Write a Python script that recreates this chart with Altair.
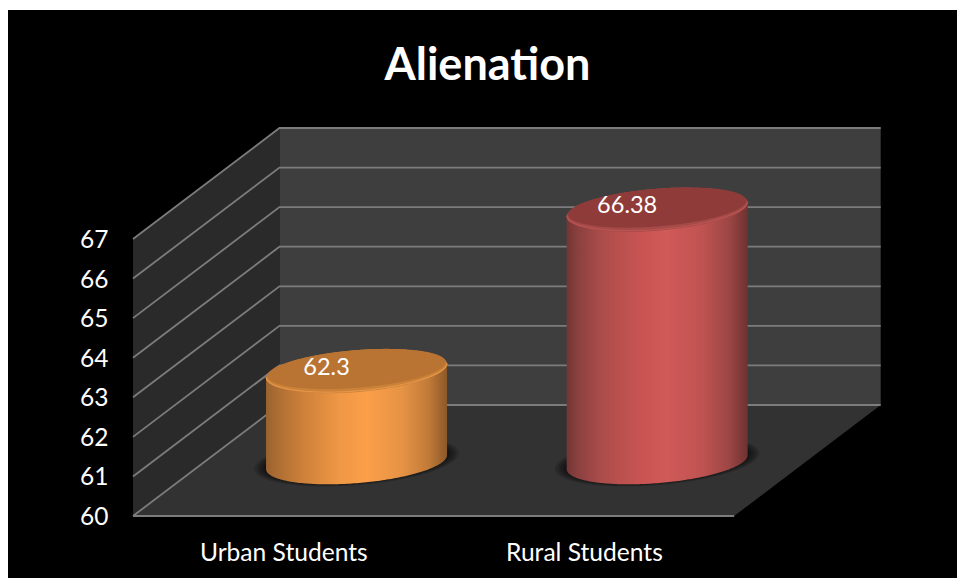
import altair as alt
import numpy as np
import pandas as pd

# Chart values
categories = ["Urban Students", "Rural Students"]
scores = [62.3, 66.38]
tick_values = [60, 61, 62, 63, 64, 65, 66, 67]
title_text = "Alienation"

# Colours for each cylinder: side gradient, rim and top face
side_stops = [
    [(0, "#9a6230"), (0.06, "#ab6d33"), (0.2, "#cd8039"), (0.4, "#ee9744"), (0.55, "#fc9f4a"),
     (0.75, "#e69345"), (0.9, "#c07a38"), (1, "#8c5828")],
    [(0, "#733534"), (0.06, "#8a403f"), (0.2, "#ad4d4b"), (0.4, "#c75452"), (0.55, "#d05a58"),
     (0.75, "#bf5351"), (0.9, "#9b4645"), (1, "#6e3230")],
]
rim_colors = ["#cc8139", "#a44a48"]
top_colors = ["#b97434", "#8f3b3a"]
edge_colors = ["#ec9f50", "#c45855"]

FONT = "Lato"

# Oblique projection of the box, in axis units
X_UNIT = 300.6
Y_UNIT = 39.57
DEPTH_X = 146.5 / X_UNIT
DEPTH_Y = 111 / Y_UNIT
BASE = tick_values[0]
TOP = tick_values[-1]
N_CATS = len(categories)
X_DOMAIN = [-125 / X_UNIT, 824 / X_UNIT]
Y_DOMAIN = [BASE - 62 / Y_UNIT, BASE + 506 / Y_UNIT]

# Cylinder cross-section, in axis units
RADIUS_X = 90.5 / X_UNIT
RADIUS_Y = 21 / Y_UNIT
TILT = 7 / Y_UNIT
DEPTH_FRAC = 0.485

x_axis = alt.Axis(
    values=[i + 0.5 for i in range(N_CATS)],
    labelExpr="datum.value < 1 ? '%s' : '%s'" % tuple(categories),
    domain=False, ticks=False, grid=False, labelColor="white", labelFont=FONT,
    labelFontSize=24.6, labelPadding=0, offset=-37, labelOverlap=False, labelBound=False, labelFlush=False,
)
y_axis = alt.Axis(
    values=tick_values,
    domain=False, ticks=False, grid=False, labelColor="white", labelFont=FONT,
    labelFontSize=24.5, labelPadding=0, offset=-100, labelOffset=1.5, labelOverlap=False, labelBound=False,
)


def xenc():
    return alt.X("x:Q", scale=alt.Scale(domain=X_DOMAIN, nice=False, zero=False), axis=x_axis, title=None)


def yenc():
    return alt.Y("y:Q", scale=alt.Scale(domain=Y_DOMAIN, nice=False, zero=False), axis=y_axis, title=None)


def gradient(stops):
    return alt.Gradient(
        gradient="linear",
        x1=0, x2=1, y1=0, y2=0,
        stops=[alt.GradientStop(offset=o, color=c) for o, c in stops],
    )


def ellipse(cx, cy, scale_x=1.0, scale_y=1.0):
    t = np.linspace(0, np.pi, 121)
    rx = RADIUS_X * scale_x
    ry = RADIUS_Y * scale_y
    return pd.DataFrame({
        "x": cx + rx * np.cos(t),
        "y": cy + TILT * scale_x * np.cos(t) + ry * np.sin(t),
        "y2": cy + TILT * scale_x * np.cos(t) - ry * np.sin(t),
    })


def filled(df, **mark):
    return alt.Chart(df).mark_area(**mark).encode(x=xenc(), y=yenc(), y2="y2:Q")


# Side wall, back wall and floor
side_wall = filled(pd.DataFrame({
    "x": [0, DEPTH_X], "y": [BASE, BASE + DEPTH_Y], "y2": [TOP, TOP + DEPTH_Y],
}), color="#2a2a2a")

back_wall = filled(pd.DataFrame({
    "x": [DEPTH_X, N_CATS + DEPTH_X],
    "y": [BASE + DEPTH_Y, BASE + DEPTH_Y],
    "y2": [TOP + DEPTH_Y, TOP + DEPTH_Y],
}), color="#3e3e3e")

floor = alt.Chart(pd.DataFrame({
    "x": [0, DEPTH_X], "x2": [N_CATS, N_CATS + DEPTH_X], "y": [BASE, BASE + DEPTH_Y],
})).mark_area(color="#323232", orient="horizontal").encode(x=xenc(), x2="x2:Q", y=yenc())

# Gridlines run across the side wall and along the back wall
grid_rows = []
for v in tick_values:
    grid_rows += [
        {"v": v, "o": 0, "x": 0, "y": v},
        {"v": v, "o": 1, "x": DEPTH_X, "y": v + DEPTH_Y},
        {"v": v, "o": 2, "x": N_CATS + DEPTH_X, "y": v + DEPTH_Y},
    ]
gridlines = alt.Chart(pd.DataFrame(grid_rows)).mark_line(color="#7c7c7c", strokeWidth=1.8).encode(
    x=xenc(), y=yenc(), detail="v:N", order="o:Q"
)
front_edge = alt.Chart(pd.DataFrame({"x": [0, N_CATS], "y": [BASE, BASE]})).mark_line(
    color="#7c7c7c", strokeWidth=2
).encode(x=xenc(), y=yenc())

layers = [side_wall, back_wall, floor, gridlines, front_edge]

# Cylinders: soft floor shadow, side, bevelled top
for i, value in enumerate(scores):
    cx = i + 0.5 + DEPTH_X / 2
    base_y = BASE + DEPTH_FRAC * DEPTH_Y
    top_y = base_y + (value - BASE)

    for grow in [1.13, 1.10, 1.07, 1.04, 1.02]:
        layers.append(filled(ellipse(cx, base_y + 0.03, grow, 1 + (grow - 1) * 1.2),
                             color="#000000", opacity=0.15))

    bottom = ellipse(cx, base_y)
    lid = ellipse(cx, top_y)
    body = pd.DataFrame({"x": bottom["x"], "y": top_y + (bottom["y"] + bottom["y2"]) / 2 - base_y, "y2": bottom["y2"]})
    layers.append(filled(body, color=gradient(side_stops[i])))
    layers.append(filled(lid, color=rim_colors[i]))
    layers.append(
        alt.Chart(ellipse(cx, top_y + 0.03)[["x", "y2"]].rename(columns={"y2": "y"}))
        .mark_line(color=edge_colors[i], strokeWidth=1.2, opacity=0.7)
        .encode(x=xenc(), y=yenc(), order=alt.Order("x:Q"))
    )
    layers.append(filled(ellipse(cx, top_y + 0.055, 0.985, 0.9), color=top_colors[i]))

    label = pd.DataFrame({"x": [cx], "y": [top_y], "t": [str(value)]})
    layers.append(
        alt.Chart(label)
        .mark_text(color="white", font=FONT, fontSize=23.5, dx=-30, dy=-3.5)
        .encode(x=xenc(), y=yenc(), text="t:N")
    )

chart = (
    alt.layer(*layers)
    .properties(
        width=949,
        height=568,
        padding={"left": 8, "top": 10, "right": 0, "bottom": 0},
        autosize=alt.AutoSizeParams(type="none"),
        background="white",
        title=alt.TitleParams(
            title_text, color="white", font=FONT, fontWeight="bold", fontSize=45,
            anchor="middle", dx=5, dy=79, offset=0,
        ),
    )
    .configure_view(fill="black", stroke=None)
)

chart.save("out.html", embed_options={"renderer": "svg", "actions": False})
